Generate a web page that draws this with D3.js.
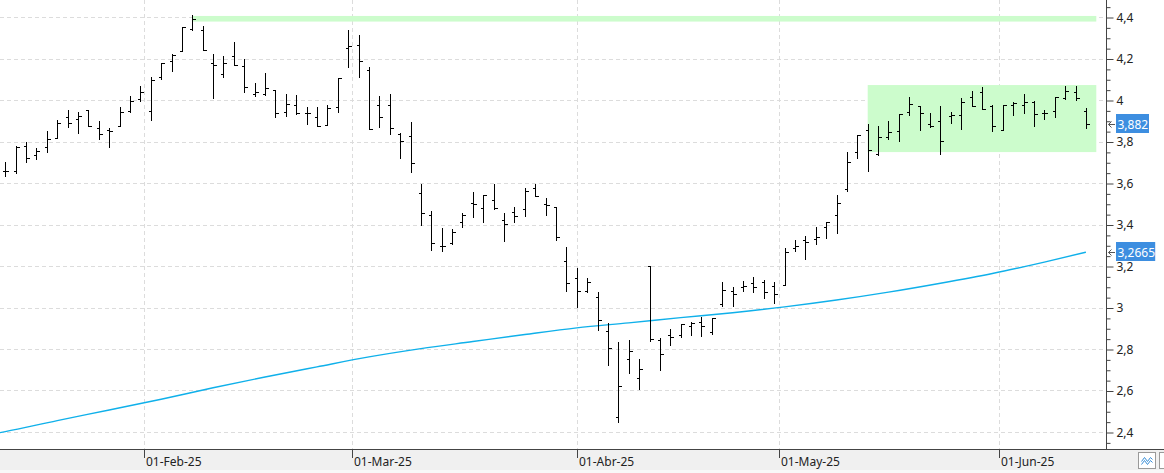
<!DOCTYPE html>
<html>
<head>
<meta charset="utf-8">
<script src="https://cdn.jsdelivr.net/npm/d3@7"></script>
<style>
  body { margin: 0; background: #fff; }
  svg { display: block; }
  text { font-family: "Noto Sans", "DejaVu Sans", sans-serif; }
</style>
</head>
<body>
<div id="chart-area"></div>
<script>
// OHLC, one entry per session (14-Jan-25 .. 12-Jun-25)
const opens  = [3.658,3.658,3.778,3.736,3.775,3.818,3.919,3.909,3.950,3.865,3.855,3.873,3.945,4.007,
  3.948,4.113,4.187,4.236,4.344,4.339,4.179,4.127,4.212,4.164,4.028,4.031,4.047,3.940,3.974,3.935,3.916,3.878,3.966,4.253,
  4.263,4.144,3.974,3.974,3.836,3.826,3.551,3.445,3.294,3.310,3.413,3.503,3.480,3.519,3.421,3.458,3.475,3.575,3.501,3.483,3.222,
  3.140,3.081,3.052,2.888,2.471,2.754,2.662,3.201,2.842,2.866,2.869,2.912,2.931,2.883,3.018,3.079,3.101,3.119,3.124,3.103,
  3.109,3.287,3.323,3.331,3.390,3.448,3.570,3.751,3.856,3.740,3.824,3.853,3.944,3.970,3.885,3.899,3.923,3.929,4.016,4.038,3.973,
  3.857,3.976,3.976,3.989,3.936,3.947,4.008,4.040,3.949]
const highs  = [3.703,3.776,3.797,3.768,3.852,3.905,3.950,3.943,3.953,3.900,3.863,3.964,4.018,4.067,
  4.110,4.180,4.222,4.354,4.410,4.357,4.222,4.212,4.280,4.196,4.083,4.131,4.050,4.028,4.024,3.966,3.966,3.976,4.105,4.336,
  4.312,4.158,4.019,4.028,3.839,3.894,3.596,3.464,3.384,3.378,3.456,3.557,3.541,3.596,3.455,3.482,3.575,3.594,3.528,3.483,3.291,
  3.188,3.140,3.077,2.923,2.834,2.842,2.750,3.201,2.851,2.895,2.922,2.928,2.954,2.951,3.125,3.101,3.129,3.145,3.133,3.125,
  3.287,3.323,3.345,3.388,3.414,3.544,3.751,3.833,3.883,3.873,3.901,3.934,4.016,3.971,3.939,3.973,3.944,4.011,4.043,4.061,3.976,
  3.976,3.990,4.027,3.994,3.954,4.016,4.066,4.069,3.962]
const lows   = [3.632,3.647,3.699,3.715,3.748,3.816,3.868,3.839,3.876,3.810,3.772,3.873,3.940,3.993,
  3.906,4.103,4.140,4.235,4.336,4.243,4.010,4.113,4.168,4.039,4.018,4.023,3.916,3.924,3.932,3.886,3.875,3.878,3.943,4.160,
  4.112,3.862,3.871,3.838,3.722,3.655,3.398,3.278,3.273,3.307,3.386,3.438,3.413,3.475,3.321,3.414,3.442,3.535,3.446,3.323,3.080,
  3.002,3.074,2.890,2.721,2.447,2.685,2.608,2.840,2.699,2.821,2.859,2.867,2.863,2.874,3.008,3.007,3.079,3.074,3.045,3.024,
  3.109,3.271,3.233,3.305,3.334,3.360,3.563,3.719,3.657,3.735,3.811,3.804,3.928,3.857,3.869,3.739,3.888,3.859,3.971,3.955,3.849,
  3.857,3.926,3.936,3.873,3.907,3.920,4.005,4.000,3.867]
const closes = [3.658,3.772,3.719,3.754,3.813,3.889,3.889,3.922,3.876,3.836,3.852,3.943,3.994,4.038,
  4.095,4.177,4.219,4.352,4.390,4.243,4.169,4.179,4.168,4.062,4.039,4.059,3.935,3.979,3.939,3.935,3.875,3.961,4.105,4.258,
  4.187,3.862,3.918,3.863,3.801,3.697,3.455,3.310,3.297,3.363,3.445,3.498,3.541,3.479,3.402,3.443,3.562,3.539,3.493,3.339,3.120,
  3.081,3.124,2.941,2.806,2.624,2.789,2.705,2.850,2.774,2.856,2.922,2.927,2.909,2.951,3.085,3.066,3.105,3.101,3.077,3.066,
  3.268,3.294,3.318,3.342,3.412,3.505,3.703,3.832,3.760,3.820,3.846,3.934,3.982,3.937,3.873,3.803,3.928,3.990,3.971,3.955,3.877,
  3.976,3.986,3.990,3.933,3.936,4.016,4.043,4.010,3.882]

// moving average, read at sample sessions
const maIdx = [-1, 0, 5, 10, 15, 20, 25, 30, 35, 40, 45, 50, 55, 60, 65, 70, 75, 80, 85, 90, 95, 100, 104]
const maVal = [2.392, 2.402, 2.455, 2.506, 2.558, 2.613, 2.665, 2.714, 2.762, 2.802, 2.836, 2.870, 2.902,
  2.926, 2.951, 2.975, 3.003, 3.036, 3.074, 3.117, 3.164, 3.219, 3.2665]

// highlighted zones
const zoneFrom = [18, 83]
const zoneTo   = [105, 105]
const zoneHi   = [4.405, 4.072]
const zoneLo   = [4.378, 3.749]

const HOLIDAYS = ["2025-04-18", "2025-04-21", "2025-05-01"]
const tickDates  = ["2025-02-01", "2025-03-01", "2025-04-01", "2025-05-01", "2025-06-01"]
const tickLabels = ["01-Feb-25", "01-Mar-25", "01-Abr-25", "01-May-25", "01-Jun-25"]
const priceTicks = [2.4, 2.6, 2.8, 3, 3.2, 3.4, 3.6, 3.8, 4, 4.2, 4.4]

const WIDTH = 1164, HEIGHT = 473
const PLOT_R = 1106, PLOT_B = 449

// session dates
const dates = []
for (let d = new Date(Date.UTC(2025, 0, 14)); dates.length < closes.length; d.setUTCDate(d.getUTCDate() + 1)) {
  const wd = d.getUTCDay()
  if (wd !== 0 && wd !== 6 && !HOLIDAYS.includes(d.toISOString().slice(0, 10))) dates.push(new Date(d))
}
const dateNums = dates.map(Number)
function datePos(t) {
  const i = d3.bisectRight(dateNums, +t) - 1
  if (i < 0) return 0
  if (i >= dates.length - 1) return dates.length - 1
  return i + (t - dates[i]) / (dates[i + 1] - dates[i])
}

const svg = d3.select("#chart-area").append("svg")
  .attr("width", WIDTH)
  .attr("height", HEIGHT)

const x = d3.scaleLinear().domain([0, 104]).range([5.3, 1085.9])
const y = d3.scaleLinear().domain([2.4, 4.4]).range([432, 17])
const px = v => Math.round(x(v)) + 0.5
const py = v => Math.round(y(v)) + 0.5

svg.append("clipPath").attr("id", "plot")
  .append("rect").attr("width", PLOT_R).attr("height", PLOT_B)

const g = svg.append("g").attr("clip-path", "url(#plot)")

// Grid
g.selectAll(".hgrid").data(priceTicks).enter().append("line")
  .attr("x1", 0).attr("x2", PLOT_R - 3)
  .attr("y1", d => py(d)).attr("y2", d => py(d))
  .attr("stroke", "#dcdcdc").attr("stroke-dasharray", "4,3")

const monthPos = tickDates.map(s => datePos(new Date(s + "T00:00:00Z")))
g.selectAll(".vgrid").data(monthPos).enter().append("line")
  .attr("x1", d => px(d)).attr("x2", d => px(d))
  .attr("y1", 0).attr("y2", PLOT_B)
  .attr("stroke", "#dcdcdc").attr("stroke-dasharray", "4,3")

// Zones
g.selectAll(".zone").data(zoneFrom).enter().append("rect")
  .attr("x", d => x(d))
  .attr("width", (d, i) => x(zoneTo[i]) - x(d))
  .attr("y", (d, i) => y(zoneHi[i]))
  .attr("height", (d, i) => y(zoneLo[i]) - y(zoneHi[i]))
  .attr("fill", "#ccfccc")

// Moving average
const maLine = d3.line().x(d => x(d[0])).y(d => y(d[1])).curve(d3.curveMonotoneX)
g.append("path")
  .datum(maIdx.map((d, i) => [d, maVal[i]]))
  .attr("d", maLine)
  .attr("fill", "none")
  .attr("stroke", "#0fb0ea")
  .attr("stroke-width", 1.4)

// OHLC bars
const bars = g.selectAll(".bar").data(closes).enter().append("g").attr("class", "bar")
  .attr("stroke", "#000").attr("stroke-width", 1).attr("shape-rendering", "crispEdges")
bars.append("line")
  .attr("x1", (d, i) => px(i)).attr("x2", (d, i) => px(i))
  .attr("y1", (d, i) => Math.round(y(highs[i]))).attr("y2", (d, i) => Math.round(y(lows[i])) + 1)
bars.append("line")
  .attr("x1", (d, i) => px(i) - 3).attr("x2", (d, i) => px(i))
  .attr("y1", (d, i) => py(opens[i])).attr("y2", (d, i) => py(opens[i]))
bars.append("line")
  .attr("x1", (d, i) => px(i)).attr("x2", (d, i) => px(i) + 3)
  .attr("y1", d => py(d)).attr("y2", d => py(d))

// Bottom strip
svg.append("rect").attr("x", 0).attr("y", PLOT_B).attr("width", WIDTH).attr("height", HEIGHT - PLOT_B)
  .attr("fill", "#f0f0f0")
svg.append("rect").attr("x", 0).attr("y", 470).attr("width", WIDTH).attr("height", 3)
  .attr("fill", "#f8f8f8")
svg.append("line").attr("x1", 0).attr("x2", WIDTH).attr("y1", PLOT_B + 0.5).attr("y2", PLOT_B + 0.5)
  .attr("stroke", "#444")

// X axis ticks + labels
const xt = svg.selectAll(".xtick").data(monthPos).enter().append("g")
  .attr("transform", d => `translate(${px(d)}, ${PLOT_B})`)
xt.append("line").attr("y1", 0).attr("y2", 9).attr("stroke", "#444")
xt.append("text").attr("x", 1.5).attr("y", 17)
  .attr("font-size", "12px").attr("fill", "#222")
  .text((d, i) => tickLabels[i])

// Right axis
svg.append("line").attr("x1", PLOT_R + 0.5).attr("x2", PLOT_R + 0.5).attr("y1", 0).attr("y2", PLOT_B)
  .attr("stroke", "#444")
const fmt = d => String(+d.toFixed(2)).replace(".", ",")
const yAxis = svg.append("g").attr("transform", `translate(${PLOT_R + 0.5}, 0.5)`)
  .call(d3.axisRight(y).tickValues(priceTicks).tickSize(7).tickPadding(3).tickFormat(fmt))
yAxis.select(".domain").remove()
yAxis.selectAll("line").attr("stroke", "#444")
yAxis.selectAll("text").attr("font-size", "12px").attr("fill", "#222")
  .attr("font-family", "\"Noto Sans\", \"DejaVu Sans\", sans-serif")
const minor = d3.range(2.35, 4.5, 0.05).filter(v => !priceTicks.some(t => Math.abs(t - v) < 1e-6))
svg.append("g").attr("transform", `translate(${PLOT_R + 0.5}, 0.5)`)
  .call(d3.axisRight(y).tickValues(minor).tickSize(4).tickFormat(""))
  .call(a => a.select(".domain").remove())
  .selectAll("line").attr("stroke", "#444")

// Last-value labels
const lastLabels = [closes[closes.length - 1], maVal[maVal.length - 1]]
const lastText = ["3,882", "3,2665"]
const lbl = svg.selectAll(".last").data(lastLabels).enter().append("g")
  .attr("transform", d => `translate(${PLOT_R}, ${Math.round(y(d))})`)
lbl.append("rect").attr("x", 10).attr("y", -10).attr("height", 19)
  .attr("width", (d, i) => lastText[i].length * 6.2 + 2)
  .attr("fill", "#3d8ee0")
lbl.append("text").attr("x", 11.5).attr("y", 4.5)
  .attr("font-size", "12px").attr("fill", "#fff")
  .text((d, i) => lastText[i])
lbl.append("path").attr("d", "M2.5,0.5 H9 M5.5,-2.5 L2.5,0.5 L5.5,3.5")
  .attr("fill", "none").attr("stroke", "#555")

// Corner buttons
const btn = svg.append("g").attr("transform", "translate(1138.5, 452.5)")
btn.append("rect").attr("width", 17).attr("height", 16).attr("fill", "#fff").attr("stroke", "#9a9a9a")
btn.append("path").attr("d", "M3,9 L6,5 L9,9 L12,5 L14,7 M3,12 L6,8 L9,12 L12,8 L14,10")
  .attr("fill", "none").attr("stroke", "#3a8fd8").attr("stroke-width", 1)
svg.append("rect").attr("x", 1159.5).attr("y", 452.5).attr("width", 17).attr("height", 16)
  .attr("fill", "#fff").attr("stroke", "#9a9a9a")
</script>
</body>
</html>
